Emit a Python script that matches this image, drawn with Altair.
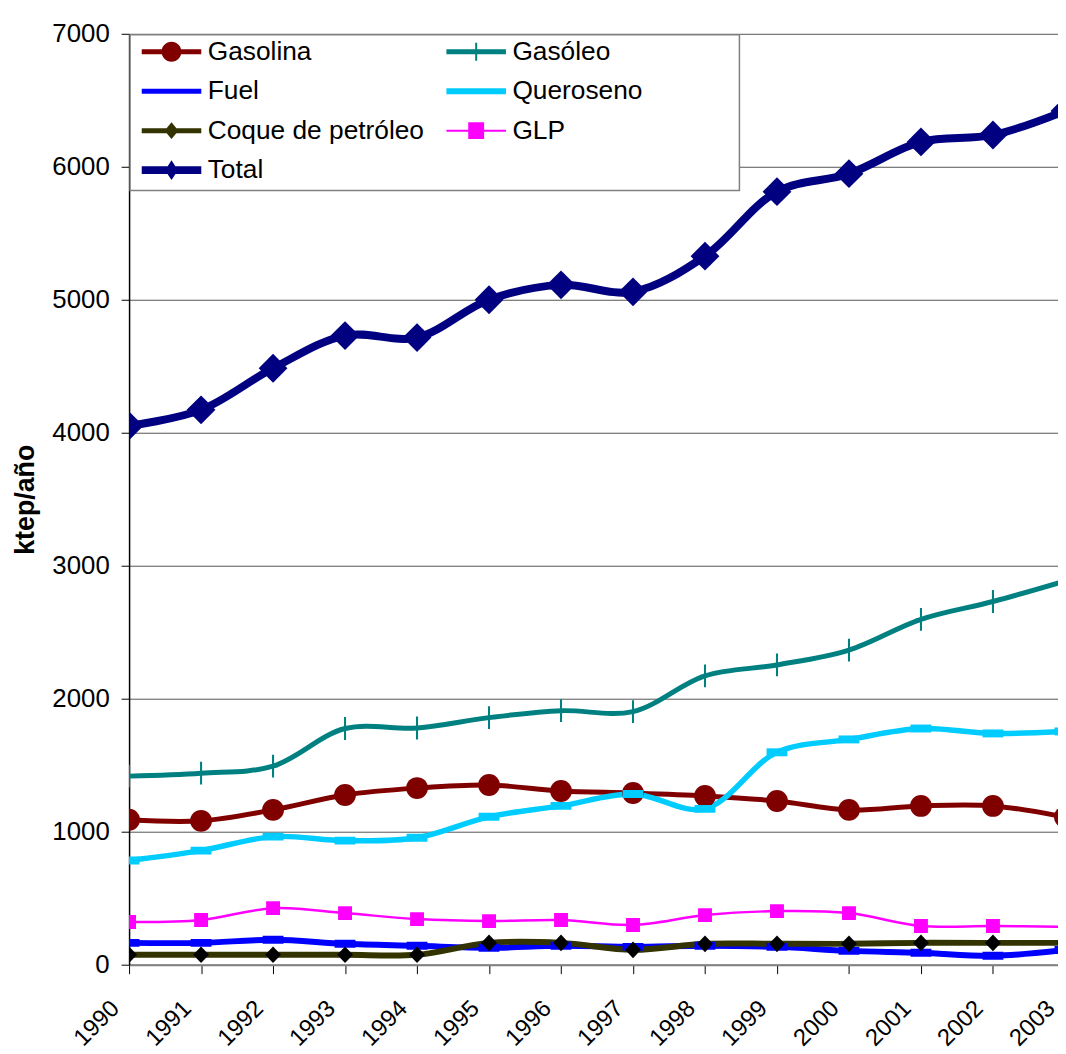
import altair as alt
import pandas as pd

years = list(range(1990, 2004))
series_names = ["Gasolina", "Gasóleo", "Fuel", "Queroseno", "Coque de petróleo", "GLP", "Total"]

gasolina = [1090, 1082, 1164, 1276, 1328, 1351, 1306, 1291, 1269, 1231, 1164, 1194, 1194, 1110]
gasoleo = [1418, 1440, 1493, 1776, 1780, 1858, 1910, 1903, 2172, 2254, 2366, 2597, 2731, 2885]
fuel = [164, 164, 187, 157, 142, 127, 142, 134, 142, 134, 104, 90, 67, 110]
queroseno = [784, 858, 963, 933, 955, 1112, 1194, 1284, 1172, 1597, 1694, 1776, 1739, 1754]
coque = [75, 75, 75, 75, 75, 164, 164, 112, 157, 157, 157, 164, 164, 164]
glp = [321, 336, 425, 388, 343, 328, 336, 299, 373, 403, 388, 291, 291, 284]
total = [4052, 4172, 4485, 4731, 4716, 5000, 5112, 5060, 5328, 5813, 5948, 6187, 6239, 6420]

y_ticks = [0, 1000, 2000, 3000, 4000, 5000, 6000, 7000]

series_values = [gasolina, gasoleo, fuel, queroseno, coque, glp, total]

# styles (per series, same order as series_names)
line_colors = ["#800000", "#008080", "#0000FF", "#00CCFF", "#333300", "#FF00FF", "#000080"]
marker_colors = ["#800000", "#008080", "#0000FF", "#00CCFF", "#000000", "#FF00FF", "#000080"]
line_widths = [5, 5, 6, 5.5, 6, 2.5, 8]
marker_shapes = [
    "circle",
    "M-0.09,-1H0.09V1H-0.09Z M-0.45,-0.09H0.45V0.09H-0.45Z",
    "M-1,-0.38H1V0.38H-1Z",
    "M-1,-0.38H1V0.38H-1Z",
    "M0,-1.05L1,0L0,1.05L-1,0Z",
    "M-1,-1H1V1H-1Z",
    "M0,-1L1,0L0,1L-1,0Z",
]
marker_sizes = [484, 529, 441, 441, 256, 196, 841]

ext = "M-3,-1.3M-3,1.3M3,-1.3M3,1.3"
def stub(h):
    return f"M-3,-{h}H3V{h}H-3Z"
legend_shapes = [
    ext + stub(0.25) + "M0,-1A1,1,0,1,1,0,1A1,1,0,1,1,0,-1Z",
    ext + stub(0.25) + "M-0.1,-0.9H0.1V0.9H-0.1Z",
    ext + stub(0.25),
    ext + stub(0.3),
    ext + stub(0.25) + "M0,-0.85L0.7,0L0,0.85L-0.7,0Z",
    ext + stub(0.1) + "M-0.8,-0.85H0.8V0.85H-0.8Z",
    ext + stub(0.4) + "M0,-1L0.65,0L0,1L-0.65,0Z",
]

# legend is filled column by column: order entries so rows read as in the reference
legend_order = [0, 2, 4, 6, 1, 3, 5]
legend_domain = [series_names[i] for i in legend_order]
legend_colors = [line_colors[i] for i in legend_order]
legend_paths = [legend_shapes[i] for i in legend_order]

lw_map = dict(zip(series_names, line_widths))
ms_map = dict(zip(series_names, marker_sizes))

rows = []
for name, vals in zip(series_names, series_values):
    for yr, v in zip(years, vals):
        rows.append({"series": name, "year": yr, "value": v})
df = pd.DataFrame(rows)
df["lw"] = df["series"].map(lw_map)
df["ms"] = df["series"].map(ms_map)

FONT = "Liberation Sans"

x_enc = alt.X(
    "year:Q",
    scale=alt.Scale(domain=[1990, 2003], nice=False, zero=False),
    axis=alt.Axis(
        values=years, format="d", title=None, labelAngle=-45, labelAlign="right",
        labelBaseline="middle", labelFont=FONT, labelFontSize=24, labelColor="black",
        labelPadding=31, labelOffset=-14, tickSize=9, tickColor="black", tickWidth=1,
        domainColor="#808080", domainWidth=2, grid=False, labelOverlap=False,
        labelFlush=False, labelBound=False,
    ),
)
y_enc = alt.Y(
    "value:Q",
    scale=alt.Scale(domain=[0, 7000], nice=False),
    axis=alt.Axis(
        values=y_ticks, format="d", title="ktep/año", titleFont=FONT, titleFontSize=27,
        titleFontWeight="bold", titleColor="black", titlePadding=12,
        labelFont=FONT, labelFontSize=26, labelColor="black", labelPadding=12,
        tickSize=8, tickColor="black", domainColor="black", domainWidth=1.5,
        gridColor="#555555", gridWidth=1, labelFlush=False, labelOverlap=False,
    ),
)

base = alt.Chart(df)

box = alt.Chart(pd.DataFrame({"a": [0]})).mark_rect(
    fill="white", stroke="#808080", strokeWidth=1.5
).encode(x=alt.value(1), x2=alt.value(615), y=alt.value(1), y2=alt.value(158))

lines = base.mark_line(interpolate="catmull-rom", clip=True).encode(
    x=x_enc, y=y_enc,
    color=alt.Color("series:N", scale=alt.Scale(domain=series_names, range=line_colors), legend=None),
    strokeWidth=alt.StrokeWidth("lw:Q", scale=None),
)

markers = base.mark_point(filled=True, opacity=1, clip=True, strokeWidth=0).encode(
    x=x_enc, y=y_enc,
    fill=alt.Fill("series:N", scale=alt.Scale(domain=series_names, range=marker_colors), legend=None),
    shape=alt.Shape("series:N", scale=alt.Scale(domain=series_names, range=marker_shapes), legend=None),
    size=alt.Size("ms:Q", scale=None),
)

leg = alt.Legend(
    title=None, orient="none", legendX=29.5, legendY=4.75, columns=2,
    columnPadding=22, rowPadding=12.8, labelFont=FONT, labelFontSize=26.5,
    labelColor="black", labelOffset=23.25, labelLimit=600, symbolSize=400,
    symbolStrokeWidth=0, symbolOpacity=1, padding=0,
)

legend_layer = base.transform_filter("false").mark_point(
    filled=True, opacity=1, size=400, strokeWidth=0
).encode(
    x=x_enc, y=y_enc,
    fill=alt.Fill("series:N", scale=alt.Scale(domain=legend_domain, range=legend_colors), legend=leg),
    shape=alt.Shape("series:N", scale=alt.Scale(domain=legend_domain, range=legend_paths), legend=leg),
)

chart = alt.layer(box, lines, markers, legend_layer).resolve_scale(
    fill="independent", shape="independent"
).properties(
    width=943, height=938,
    autosize=alt.AutoSizeParams(type="none"),
    padding={"left": 122, "top": 22, "right": -7, "bottom": 86},
    background="white",
).configure_view(stroke="transparent")

chart.save("out.html", embed_options={"renderer": "svg", "actions": False})
